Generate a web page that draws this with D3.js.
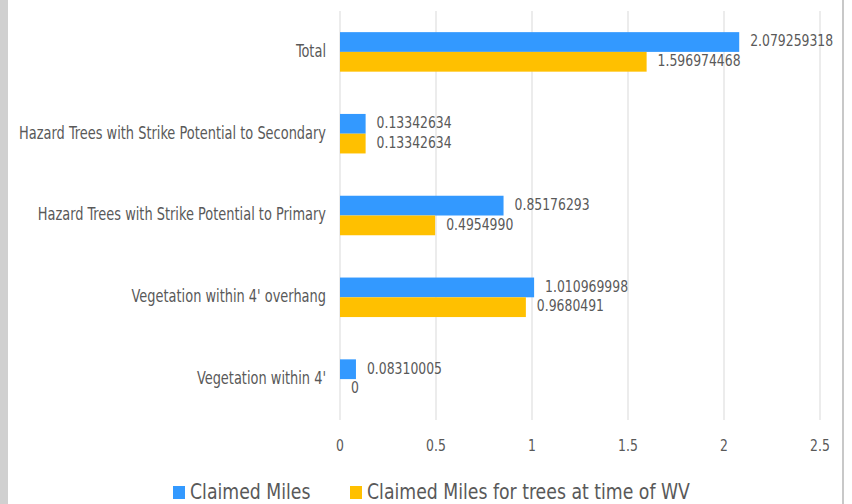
<!DOCTYPE html>
<html>
<head>
<meta charset="utf-8">
<script src="https://cdn.jsdelivr.net/npm/d3@7"></script>
<style>
  body { margin: 0; background: #fff; }
  svg text { font-family: "DejaVu Sans Condensed", "Liberation Sans", sans-serif; fill: #595959; }
</style>
</head>
<body>
<div id="chart"></div>
<script>
// Chart data
const categories = [
  'Total',
  'Hazard Trees with Strike Potential to Secondary',
  'Hazard Trees with Strike Potential to Primary',
  "Vegetation within 4' overhang",
  "Vegetation within 4'"
];
const seriesNames = ['Claimed Miles', 'Claimed Miles for trees at time of WV'];
const claimedMiles = [2.079259318, 0.13342634, 0.85176293, 1.010969998, 0.08310005];
const claimedLabels = ['2.079259318', '0.13342634', '0.85176293', '1.010969998', '0.08310005'];
const wvMiles = [1.596974468, 0.13342634, 0.4954990, 0.9680491, 0];
const wvLabels = ['1.596974468', '0.13342634', '0.4954990', '0.9680491', '0'];
const xTicks = [0, 0.5, 1, 1.5, 2, 2.5];

const width = 852, height = 504;
const colors = ['#3399ff', '#ffc000'];

const svg = d3.select('#chart')
  .append('svg')
  .attr('width', width)
  .attr('height', height)
  .style('display', 'block')
  .style('background', '#fff');

// the original uses a narrow font, so squeeze text horizontally
// k = wanted width of a sample string / its measured width
function squeezeFactor(sample, fontSize, wanted) {
  const t = svg.append('text').style('font-size', fontSize + 'px').text(sample);
  const w = t.node().getComputedTextLength();
  t.remove();
  return wanted / w;
}
const kCat = squeezeFactor(categories[1], 17, 307);
const kVal = squeezeFactor('2.079259318', 16, 83);
const kLeg = squeezeFactor(seriesNames[1], 21, 323);

// frame edges
svg.append('rect').attr('x', 0).attr('y', 0).attr('width', 8).attr('height', height).attr('fill', '#d0d0d0');
svg.append('line').attr('x1', 843).attr('x2', 843).attr('y1', 0).attr('y2', height)
  .attr('stroke', '#c8c8c8').attr('stroke-width', 2);

const x = d3.scaleLinear().domain([0, 2.5]).range([340, 820]);
const y = d3.scaleBand().domain(categories).range([11, 420])
  .paddingInner(0.517).paddingOuter(0.2585);
const ySub = d3.scaleBand().domain(seriesNames).range([0, y.bandwidth()]);

// gridlines
svg.append('g')
  .selectAll('line')
  .data(xTicks)
  .join('line')
  .attr('x1', d => x(d)).attr('x2', d => x(d))
  .attr('y1', 11).attr('y2', 420)
  .attr('stroke', '#d9d9d9')
  .attr('stroke-width', 1);

// x tick labels
svg.append('g')
  .selectAll('text')
  .data(xTicks)
  .join('text')
  .attr('transform', d => `translate(${x(d)},447) scale(${kVal},1)`)
  .attr('text-anchor', 'middle')
  .attr('dominant-baseline', 'middle')
  .style('font-size', '16px')
  .text(d => d);

// category labels
svg.append('g')
  .selectAll('text')
  .data(categories)
  .join('text')
  .attr('transform', d => `translate(326,${y(d) + y.bandwidth() / 2}) scale(${kCat},1)`)
  .attr('text-anchor', 'end')
  .attr('dominant-baseline', 'middle')
  .style('font-size', '17px')
  .text(d => d);

const rows = categories.map((c, i) => ({
  cat: c,
  vals: [
    { s: seriesNames[0], v: claimedMiles[i], label: claimedLabels[i] },
    { s: seriesNames[1], v: wvMiles[i], label: wvLabels[i] }
  ]
}));

const groups = svg.append('g')
  .selectAll('g')
  .data(rows)
  .join('g')
  .attr('transform', d => `translate(0,${y(d.cat)})`);

groups.selectAll('rect')
  .data(d => d.vals)
  .join('rect')
  .attr('x', x(0))
  .attr('y', d => ySub(d.s))
  .attr('width', d => x(d.v) - x(0))
  .attr('height', ySub.bandwidth())
  .attr('fill', (d, i) => colors[i]);

groups.selectAll('text')
  .data(d => d.vals)
  .join('text')
  .attr('transform', d => `translate(${x(d.v) + 11},${ySub(d.s) + ySub.bandwidth() / 2}) scale(${kVal},1)`)
  .attr('dominant-baseline', 'middle')
  .style('font-size', '16px')
  .text(d => d.label);

// legend (sits at the very bottom edge, as in the original)
const legendX = [173, 350];
const legend = svg.append('g')
  .selectAll('g')
  .data(seriesNames)
  .join('g')
  .attr('transform', (d, i) => `translate(${legendX[i]},486)`);

legend.append('rect')
  .attr('width', 12).attr('height', 13)
  .attr('fill', (d, i) => colors[i]);

legend.append('text')
  .attr('transform', `translate(17,13) scale(${kLeg},1)`)
  .style('font-size', '21px')
  .text(d => d);
</script>
</body>
</html>
